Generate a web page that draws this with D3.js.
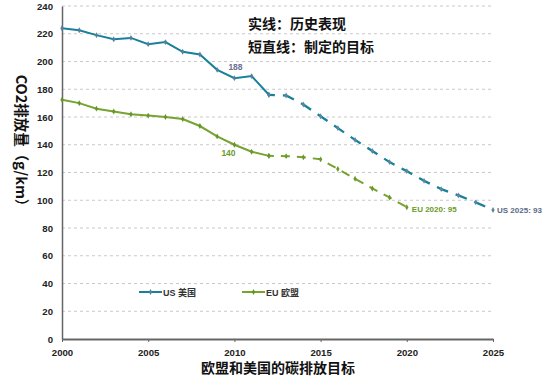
<!DOCTYPE html>
<html lang="zh">
<head>
<meta charset="UTF-8">
<title>欧盟和美国的碳排放目标</title>
<script src="https://d3js.org/d3.v7.min.js"></script>
<style>
  body { margin: 0; background: #fff; }
  svg { display: block; }
  .tick text { font-family: "Liberation Sans", Arial, sans-serif; font-weight: bold; font-size: 9.6px; fill: #222; }
  .cjk { font-family: "Noto Sans CJK SC", "Noto Sans", sans-serif; font-weight: bold; }
  .small { font-family: "Liberation Sans", Arial, sans-serif; font-weight: bold; }
</style>
</head>
<body>
<div id="chart"></div>
<script>
// 历史数据 (实线)
var histYears = [2000, 2001, 2002, 2003, 2004, 2005, 2006, 2007, 2008, 2009, 2010, 2011, 2012];
var usHist = [224, 222.5, 219, 216, 217, 212.5, 214, 207, 205, 194, 188, 189.5, 176];
var euHist = [172.5, 170, 166, 164, 162, 161, 160, 158.5, 153.5, 146, 140, 135, 132];

// 目标 (短直线)
var usTargetYears = [2012, 2013, 2014, 2015, 2016, 2017, 2018, 2019, 2020, 2021, 2022, 2023, 2024, 2025];
var usTarget = [176, 175.5, 169, 160.5, 152, 143.5, 135.5, 127.5, 121, 114, 108, 103.5, 98.5, 93];
var euTargetYears = [2012, 2013, 2014, 2015, 2016, 2017, 2018, 2019, 2020];
var euTarget = [132, 131.8, 131, 129.5, 122.5, 115.5, 108.5, 102, 95];

var xTicks = [2000, 2005, 2010, 2015, 2020, 2025];
var yTicks = [0, 20, 40, 60, 80, 100, 120, 140, 160, 180, 200, 220, 240];

var width = 554, height = 377;
var margin = { top: 6, right: 61, bottom: 38, left: 62 };

var usColor = "#17809b", euColor = "#77a331";

var x = d3.scaleLinear().domain([2000, 2025]).range([margin.left, width - margin.right]);
var y = d3.scaleLinear().domain([0, 240]).range([height - margin.bottom, margin.top]);

var svg = d3.select("#chart").append("svg")
    .attr("width", width)
    .attr("height", height);

// 网格线
svg.append("g")
    .selectAll("line")
    .data(yTicks.filter(function (d) { return d > 0; }))
    .enter().append("line")
    .attr("x1", x(2000)).attr("x2", x(2025))
    .attr("y1", function (d) { return y(d); })
    .attr("y2", function (d) { return y(d); })
    .attr("stroke", "#c9c9c9")
    .attr("stroke-width", 1)
    .attr("stroke-dasharray", "3,3");

// 坐标轴
var yAxis = svg.append("g")
    .attr("transform", "translate(" + margin.left + ",0)")
    .call(d3.axisLeft(y).tickValues(yTicks).tickSize(0).tickPadding(9));
yAxis.select(".domain").attr("stroke", "#666").attr("stroke-width", 1.5);

var xAxis = svg.append("g")
    .attr("transform", "translate(0," + (height - margin.bottom) + ")")
    .call(d3.axisBottom(x).tickValues(xTicks).tickFormat(d3.format("d")).tickSize(3).tickSizeOuter(0).tickPadding(7));
xAxis.select(".domain").attr("stroke", "#666").attr("stroke-width", 2);
xAxis.selectAll(".tick line").attr("stroke", "#666");

var line = d3.line()
    .x(function (d) { return x(d[0]); })
    .y(function (d) { return y(d[1]); });

function drawSeries(years, values, color, markColor, dash, offset, width) {
    var pts = years.map(function (yr, i) { return [yr, values[i]]; });
    svg.append("path")
        .datum(pts)
        .attr("d", line)
        .attr("fill", "none")
        .attr("stroke", color)
        .attr("stroke-width", width)
        .attr("stroke-dasharray", dash)
        .attr("stroke-dashoffset", offset);
    svg.append("g")
        .selectAll("path")
        .data(pts)
        .enter().append("path")
        .attr("d", d3.symbol().type(d3.symbolDiamond).size(10))
        .attr("transform", function (d) { return "translate(" + x(d[0]) + "," + y(d[1]) + ")"; })
        .attr("fill", markColor);
}

drawSeries(usTargetYears, usTarget, usColor, "#5f86a0", "12,8", 6, 2.3);
drawSeries(euTargetYears, euTarget, euColor, "#6a9a2c", "9,7", 4, 2);
drawSeries(histYears, usHist, usColor, "#557f9c", null, 0, 2);
drawSeries(histYears, euHist, euColor, "#66962a", null, 0, 2);

// 数据标签
svg.append("text").attr("class", "small")
    .attr("x", x(2010) - 6).attr("y", y(188) - 8.5)
    .attr("font-size", 8.5).attr("fill", "#6d6d8e").text("188");
svg.append("text").attr("class", "small")
    .attr("x", x(2010) - 13).attr("y", y(140) + 11)
    .attr("font-size", 8.5).attr("fill", "#6a9a2a").text("140");
svg.append("text").attr("class", "small")
    .attr("x", x(2020) + 5).attr("y", y(95) + 4.5)
    .attr("font-size", 8).attr("fill", "#6a9a2a").text("EU 2020: 95");
svg.append("text").attr("class", "small")
    .attr("x", x(2025) + 4).attr("y", y(93) + 3)
    .attr("font-size", 8).attr("fill", "#5b6a84").text("US 2025: 93");

// 图例
var legend = [
    { name: "US", cn: "美国", color: usColor, mark: "#557f9c", x0: 139 },
    { name: "EU", cn: "欧盟", color: euColor, mark: "#66962a", x0: 242 }
];
legend.forEach(function (d) {
    var ly = 292;
    svg.append("line")
        .attr("x1", d.x0).attr("x2", d.x0 + 23)
        .attr("y1", ly).attr("y2", ly)
        .attr("stroke", d.color).attr("stroke-width", 2);
    svg.append("path")
        .attr("d", d3.symbol().type(d3.symbolDiamond).size(10))
        .attr("transform", "translate(" + (d.x0 + 11.5) + "," + ly + ")")
        .attr("fill", d.mark);
    var t = svg.append("text").attr("class", "cjk")
        .attr("x", d.x0 + 24).attr("y", ly + 3.5)
        .attr("font-size", 9).attr("fill", "#333");
    t.append("tspan").attr("class", "small").text(d.name + " ");
    t.append("tspan").text(d.cn);
});

// 注释
svg.append("text").attr("class", "cjk")
    .attr("x", 248).attr("y", 29)
    .attr("font-size", 14).attr("fill", "#111")
    .text("实线：历史表现");
svg.append("text").attr("class", "cjk")
    .attr("x", 248).attr("y", 52)
    .attr("font-size", 14).attr("fill", "#111")
    .text("短直线：制定的目标");

// 轴标题
svg.append("text").attr("class", "cjk")
    .attr("transform", "translate(16," + 144 + ") rotate(90)")
    .attr("text-anchor", "middle")
    .attr("font-size", 14.5).attr("fill", "#111")
    .text("CO2排放量（g/km）");
svg.append("text").attr("class", "cjk")
    .attr("x", 278).attr("y", 373)
    .attr("text-anchor", "middle")
    .attr("font-size", 14).attr("fill", "#111")
    .text("欧盟和美国的碳排放目标");
</script>
</body>
</html>
